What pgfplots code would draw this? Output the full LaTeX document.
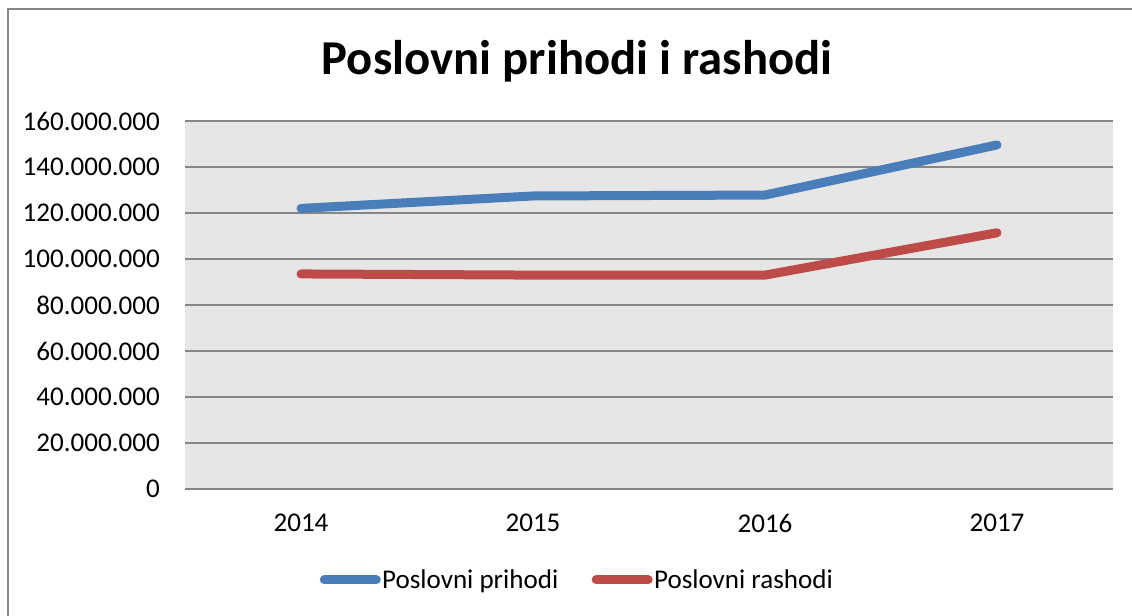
\documentclass[border=0pt]{standalone}
\usepackage{fontspec}
\setmainfont{Carlito}
\usepackage{pgfplots}
\pgfplotsset{compat=1.18}
\definecolor{cblue}{HTML}{4A7EBB}
\definecolor{cred}{HTML}{BE4B48}
\definecolor{bggray}{HTML}{E6E6E6}
\definecolor{gridgray}{HTML}{868686}
\begin{document}
\begin{tikzpicture}[x=0.75pt,y=0.75pt]
\path[use as bounding box] (0,0) rectangle (1132,616);
\draw[gridgray, line width=1.5pt] (8,0) -- (8,607) -- (1132,607);
\node[font=\fontsize{36.5}{40}\selectfont\bfseries] at (577,555) {Poslovni prihodi i rashodi};
\begin{axis}[
  at={(138.75pt,95.25pt)}, anchor=south west,
  scale only axis, width=696pt, height=276pt,
  xmin=-0.5, xmax=3.5, ymin=0, ymax=160000000,
  scaled y ticks=false,
  axis background/.style={fill=bggray},
  axis line style={draw=none},
  tick style={draw=none},
  ymajorgrids, major grid style={gridgray, line width=1.1pt},
  xtick={0,1,2,3}, xticklabels={2014,2015,2016,2017},
  ytick={0,20000000,40000000,60000000,80000000,100000000,120000000,140000000,160000000},
  yticklabels={0,20.000.000,40.000.000,60.000.000,80.000.000,100.000.000,120.000.000,140.000.000,160.000.000},
  tick label style={font=\fontsize{20.3}{22}\selectfont},
  yticklabel style={inner sep=0pt, xshift=-18.75pt},
  xticklabel style={inner sep=0pt, yshift=-18.75pt},
  legend columns=2,
  legend style={at={(0.4224,-0.247)}, anchor=center, draw=none, fill=none,
    font=\fontsize{20.3}{22}\selectfont,
    /tikz/every even column/.append style={column sep=24pt},
    nodes={inner sep=1pt}},
  legend image code/.code={\draw[#1] (0pt,0pt) -- (39pt,0pt);},
  every axis plot/.append style={line width=6.75pt, line cap=round, line join=round},
]
\addplot[cblue] coordinates {(0,122000000) (1,127400000) (2,127800000) (3,149600000)};
\addlegendentry{Poslovni prihodi}
\addplot[cred] coordinates {(0,93500000) (1,93000000) (2,93000000) (3,111400000)};
\addlegendentry{Poslovni rashodi}
\end{axis}
\end{tikzpicture}
\end{document}
